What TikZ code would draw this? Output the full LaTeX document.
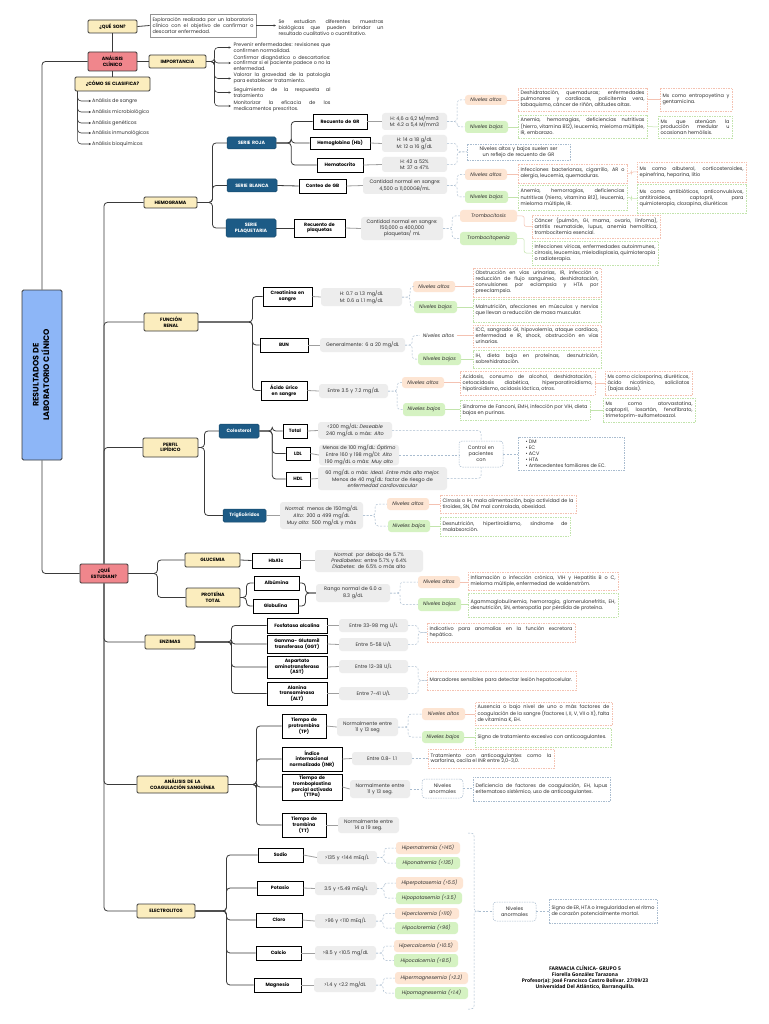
\documentclass[tikz,border=0pt]{standalone}
\usepackage{fontspec}
\setmainfont{Poppins}
\newfontfamily\footfont{Open Sans}
\usetikzlibrary{arrows.meta}
\hyphenpenalty=10000 \exhyphenpenalty=10000 \tolerance=9999 \emergencystretch=30pt
\hbadness=10000 \hfuzz=50pt \vbadness=10000 \vfuzz=50pt
\definecolor{cyel}{HTML}{FBEDBE}
\definecolor{cpink}{HTML}{F0868C}
\definecolor{clblue}{HTML}{8DB6F7}
\definecolor{cdblue}{HTML}{1D5B86}
\definecolor{cgray}{HTML}{EDEDED}
\definecolor{cpeach}{HTML}{FDE5D3}
\definecolor{cgreen}{HTML}{D5F2C2}
\definecolor{cpeachl}{HTML}{F4C2B2}
\definecolor{cgreenl}{HTML}{C2E4AC}
\definecolor{cbluel}{HTML}{A9BCCF}
\definecolor{cline}{HTML}{3A3A3A}
\definecolor{ctext}{HTML}{2E2E2E}
\newcommand\fs{\fontsize{4.95}{5.9}\selectfont}
\newcommand\fsb{\bfseries\fontsize{4.7}{5.7}\selectfont}
\newcommand\fsi{\itshape\fontsize{4.95}{5.9}\selectfont}
\newcommand\bx[7]{%
  \pgfmathsetmacro\bxw{#5-#3-5}%
  \pgfmathsetmacro\bxh{#6-#4}%
  \pgfmathsetmacro\bxx{(#3+#5)/2}%
  \pgfmathsetmacro\bxy{(#4+#6)/2}%
  \node[#2, text width=\bxw pt, minimum height=\bxh pt] (#1) at (\bxx,\bxy) {#7};}
\tikzset{
 sbase/.style={inner xsep=2.5pt, inner ysep=0.3pt, font=\fs, text=ctext},
 ybx/.style={sbase, fill=cyel, draw=cline, line width=0.9pt, rounded corners=1.2pt, align=center, font=\fsb, text=black},
 pbx/.style={ybx, fill=cpink},
 dbx/.style={sbase, fill=cdblue, draw=cdblue!80!black, line width=0.5pt, rounded corners=1.5pt, align=center, text=white, font=\fsb},
 wbx/.style={sbase, fill=white, draw=black, line width=0.8pt, align=center, font=\fsb, text=black},
 gbx/.style={sbase, fill=cgray, rounded corners=3pt, align=center},
 hibx/.style={sbase, fill=cpeach, rounded corners=3pt, align=center, font=\fsi},
 lobx/.style={sbase, fill=cgreen, rounded corners=3pt, align=center, font=\fsi},
 hipl/.style={sbase, align=center, font=\fsi},
 tpe/.style={sbase, draw=cpeachl, dash pattern=on 1.5pt off 1pt, line width=0.5pt, align=justify},
 tgr/.style={tpe, draw=cgreenl},
 tbl/.style={tpe, draw=cbluel},
 tblc/.style={tbl, align=center},
 tblr/.style={tbl, rounded corners=3pt, align=center},
 exbx/.style={sbase, fill=white, draw=gray!85, line width=0.6pt, align=justify},
 txt/.style={sbase, align=justify},
 clt/.style={sbase, anchor=west, inner xsep=1pt},
 cn/.style={draw=cline, line width=0.8pt, rounded corners=3.5pt},
 arr/.style={-{Stealth[length=2.2pt,width=2.2pt]}},
 vcn/.style={draw=gray!75, line width=0.8pt},
 dcn/.style={draw=cbluel, line width=0.5pt, dash pattern=on 2pt off 1.5pt, rounded corners=3pt},
 pcn/.style={draw=cpeachl, line width=0.5pt, rounded corners=2pt},
 gcn/.style={draw=cgreenl, line width=0.5pt, rounded corners=2pt},
}
\begin{document}
\begin{tikzpicture}[x=1pt,y=-1pt]
\fill[white] (0,0) rectangle (768,1024);
\useasboundingbox (0,0) rectangle (768,1024);

% ---------------- top part
\bx{qs}{ybx}{88}{20}{137}{33}{¿QUÉ SON?}
\bx{expl}{exbx}{150}{14}{256}{37}{Exploración realizada por un laboratorio clínico con el objetivo de confirmar o descartar enfermedad.}
\bx{seest}{txt}{276}{16}{386}{40}{Se estudian diferentes muestras biológicas que pueden brindar un resultado cualitativo o cuantitativo.}
\bx{ac}{pbx}{88}{52}{137}{71}{ANÁLISIS\\CLÍNICO}
\bx{imp}{ybx}{149}{55}{206}{68}{IMPORTANCIA}
\bx{imA}{txt}{231}{42}{333}{53}{Prevenir enfermedades: revisiones que confirmen normalidad.}
\bx{imB}{txt}{231}{56}{333}{70}{Confirmar diagnóstico o descartarlos: confirmar si el paciente padece o no la enfermedad.}
\bx{imC}{txt}{231}{73}{333}{84}{Valorar la gravedad de la patología para establecer tratamiento.}
\bx{imD}{txt}{231}{87}{333}{98}{Seguimiento de la respuesta al tratamiento}
\bx{imE}{txt}{231}{100}{333}{112}{Monitorizar la eficacia de los medicamentos prescritos.}
\bx{cls}{ybx}{75}{77}{150}{91}{¿CÓMO SE CLASIFICA?}
\node[clt] (clA) at (91,101) {Análisis de sangre};
\node[clt] (clB) at (91,112) {Análisis microbiológico};
\node[clt] (clC) at (91,123) {Análisis genéticos};
\node[clt] (clD) at (91,133) {Análisis inmunológicos};
\node[clt] (clE) at (91,144) {Análisis bioquímicos};

\node[fill=clblue, draw=cline, line width=0.9pt, rounded corners=1.5pt, minimum width=40pt, minimum height=170pt, inner sep=0pt, font=\bfseries\fontsize{8}{9.5}\selectfont] (res) at (42,375)
  {\rotatebox{90}{\begin{tabular}{@{}c@{}}RESULTADOS DE\\LABORATORIO CLÍNICO\end{tabular}}};
\bx{qe}{pbx}{80}{564}{128}{583}{¿QUÉ\\ESTUDIAN?}

% ---------------- hemograma
\bx{hem}{ybx}{144}{197}{197}{208}{HEMOGRAMA}
\bx{sr}{dbx}{227}{137}{276}{149}{SERIE ROJA}
\bx{sb}{dbx}{227}{179}{277}{192}{SERIE BLANCA}
\bx{sp}{dbx}{226}{219}{276}{237}{SERIE\\PLAQUETARIA}
\bx{gr}{wbx}{313}{114}{367}{129}{Recuento de GR}
\bx{hb}{wbx}{310}{137}{370}{149}{Hemoglobina (Hb)}
\bx{hct}{wbx}{317}{158}{363}{172}{Hematocrito}
\bx{gb}{wbx}{299}{179}{346}{193}{Conteo de GB}
\bx{plq}{wbx}{294}{219}{345}{237}{Recuento de\\plaquetas}
\bx{vgr}{gbx}{382}{113}{447}{130}{H: 4,6 a 6,2 M/mm3\\M: 4.2 a 5,4 M/mm3}
\bx{vhb}{gbx}{382}{135}{447}{152}{H: 14 a 18 g/dL\\M: 12 a 16 g/dL}
\bx{vhct}{gbx}{382}{157}{447}{172}{H: 42 a 52\%\\M: 37 a 47\%}
\bx{vgb}{gbx}{363}{177}{447}{194}{Cantidad normal  en sangre:\\4,500 a 11,000GB/mL.}
\bx{vplq}{gbx}{361}{217}{443}{240}{Cantidad normal en sangre:\\150,000 a 400,000\\plaquetas/ mL}
\bx{grA}{hibx}{465}{95}{507}{105}{Niveles altos}
\bx{grB}{lobx}{465}{121}{508}{133}{Niveles bajos}
\bx{grAt}{tpe}{518}{88}{647}{111}{Deshidratación, quemaduras; enfermedades pulmonares y cardiacas, policitemia vera, tabaquismo, cáncer de riñón, altitudes altas.}
\bx{grAm}{tpe}{660}{88}{732}{111}{Mx como entropoyetina y gentamicina.}
\bx{grBt}{tgr}{518}{115}{647}{138}{Anemia, hemorragias, deficiencias nutritivas (hierro, vitamina B12), leucemia, mieloma múltiple, IR, embarazo.}
\bx{grBm}{tgr}{658}{116}{732}{138}{Mx que atenúan la producción medular u ocasionan hemólisis.}
\bx{hbn}{tblc}{467}{144}{570}{160}{Niveles altos y bajos suelen ser un reflejo de recuento de GR}
\bx{gbA}{hibx}{465}{169}{507}{180}{Niveles altos}
\bx{gbB}{lobx}{465}{191}{508}{203}{Niveles bajos}
\bx{gbAt}{tpe}{518}{164}{627}{183}{Infecciones bacterianas, cigarrillo, AR o alergia, leucemia, quemaduras.}
\bx{gbAm}{tpe}{637}{162}{746}{182}{Mx como albuterol, corticosteroides, epinefrina, heparina, litio}
\bx{gbBt}{tgr}{518}{185}{627}{210}{Anemia, hemorragias, deficiencias nutritivas (hierro, vitamina B12), leucemia, mieloma múltiple, IR.}
\bx{gbBm}{tgr}{637}{184}{746}{213}{Mx como antibióticos, anticonvulsivos, antitiroideos, captopril, para quimioterapia, clozapina, diuréticos}
\bx{pA}{hibx}{460}{210}{517}{222}{Trombocitosis}
\bx{pB}{lobx}{460}{232}{517}{245}{Trombocitopenia}
\bx{pAt}{tpe}{532}{215}{660}{238}{Cáncer (pulmón, GI, mama, ovario, linfoma), artritis reumatoide, lupus, anemia hemolítica, trombocitemia esencial.}
\bx{pBt}{tgr}{532}{241}{658}{265}{Infecciones víricas, enfermedades autoinmunes, cirrosis, leucemias, mielodisplasia, quimioterapia o radioterapia.}

% ---------------- funcion renal
\bx{fr}{ybx}{144}{313}{198}{331}{FUNCIÓN\\RENAL}
\bx{cr}{wbx}{263}{287}{312}{306}{Creatinina en\\sangre}
\bx{bun}{wbx}{260}{338}{308}{352}{BUN}
\bx{au}{wbx}{261}{381}{307}{400}{Ácido úrico\\en sangre}
\bx{vcr}{gbx}{321}{288}{402}{306}{H: 0.7 a 1.3 mg/dL\\M: 0.6 a 1.1 mg/dL}
\bx{vbun}{gbx}{320}{338}{405}{352}{Generalmente: 6 a 20 mg/dL}
\bx{vau}{gbx}{319}{384}{388}{398}{Entre 3.5 y 7.2 mg/dL}
\bx{crA}{hibx}{413}{281}{455}{292}{Niveles altos}
\bx{crB}{lobx}{414}{301}{457}{313}{Niveles bajos}
\bx{bunA}{hipl}{420}{331}{457}{340}{Niveles altos}
\bx{bunB}{lobx}{418}{353}{461}{365}{Niveles bajos}
\bx{auA}{hibx}{402}{377}{444}{388}{Niveles altos}
\bx{auB}{lobx}{403}{403}{445}{416}{Niveles bajos}
\bx{crAt}{tpe}{473}{268}{601}{297}{Obstrucción en vías urinarias, IR, infección o reducción de flujo sanguíneo, deshidratación, convulsiones por eclampsia y HTA por preeclampsia.}
\bx{crBt}{tgr}{473}{299}{601}{322}{Malnutrición, afecciones en músculos y nervios que llevan a reducción de masa muscular.}
\bx{bunAt}{tpe}{473}{325}{601}{347}{ICC, sangrado GI, hipovolemia, ataque cardiaco, enfermedad e IR, shock, obstrucción en vías urinarias.}
\bx{bunBt}{tgr}{473}{350}{601}{368}{IH, dieta baja en proteínas, desnutrición, sobrehidratación.}
\bx{auAt}{tpe}{460}{371}{595}{395}{Acidosis, consumo de alcohol, deshidratación, cetoacidosis diabética, hiperparatiroidismo, hipotiroidismo, acidosis láctica, otros.}
\bx{auAm}{tpe}{605}{371}{692}{395}{Mx como ciclosporina, diuréticos, ácido nicotínico, salicilatos (bajas dosis).}
\bx{auBt}{tgr}{460}{400}{590}{420}{Síndrome de Fanconi, EMH, infección por VIH, dieta bajas en purinas.}
\bx{auBm}{tgr}{603}{398}{695}{422}{Mx como atorvastatina, captopril, losartán, fenofibrato, trimetoprim-sulfametoxazol.}

% ---------------- perfil lipidico
\bx{pl}{ybx}{143}{438}{198}{457}{PERFIL\\LIPÍDICO}
\bx{col}{dbx}{219}{424}{259}{438}{Colesterol}
\bx{tri}{dbx}{223}{509}{266}{522}{Triglicéridos}
\bx{tot}{wbx}{283}{424}{307}{438}{Total}
\bx{ldl}{wbx}{286}{447}{310}{460}{LDL}
\bx{hdl}{wbx}{286}{472}{310}{486}{HDL}
\bx{vtot}{gbx}{318}{422}{392}{439}{<200 mg/dL: \textit{Deseable}\\240 mg/dL o más: \textit{Alto}}
\bx{vldl}{gbx}{319}{445}{399}{465}{Menos de 100 mg/dL: \textit{Óptimo}\\Entre 160 y 198 mg/Dl: \textit{Alto}\\190 mg/dL o más: \textit{Muy alto}}
\bx{vhdl}{gbx}{318}{467}{447}{490}{60 mg/dL o más: \textit{Ideal. Entre más alto mejor.}\\Menos de 40 mg/dL: factor de riesgo de\\\textit{enfermedad cardiovascular}}
\bx{ctrl}{tblr}{459}{441}{503}{467}{Control en\\pacientes\\con}
\bx{risk}{tbl}{518}{437}{624}{470}{\raggedright\hspace*{5pt}\textbullet\ DM\\\hspace*{5pt}\textbullet\ EC\\\hspace*{5pt}\textbullet\ ACV\\\hspace*{5pt}\textbullet\ HTA\\\hspace*{5pt}\textbullet\ Antecedentes familiares de EC.}
\bx{vtri}{gbx}{280}{502}{363}{529}{\textit{Normal}: menos de 150mg/dL\\\textit{Alto}: 200 a 499 mg/dL\\\textit{Muy alto}: 500 mg/dL y más}
\bx{triA}{hibx}{387}{498}{429}{510}{Niveles altos}
\bx{triB}{lobx}{388}{520}{430}{532}{Niveles bajos}
\bx{triAt}{tpe}{440}{495}{576}{513}{Cirrosis o IH, mala alimentación, baja actividad de la tiroides, SN, DM mal controlada, obesidad.}
\bx{triBt}{tgr}{440}{517}{570}{536}{Desnutrición, hipertiroidismo, síndrome de malabsorción.}

% ---------------- glucemia / proteina
\bx{glu}{ybx}{185}{553}{240}{567}{GLUCEMIA}
\bx{pt}{ybx}{186}{588}{240}{607}{PROTEÍNA\\TOTAL}
\bx{hba}{wbx}{252}{553}{300}{568}{HbA1c}
\bx{vhba}{gbx}{315}{550}{423}{572}{\textit{Normal}: por debajo de 5.7\%\\\textit{Prediabetes}: entre 5.7\% y 6.4\%\\\textit{Diabetes}: de 6.5\% o más alto}
\bx{alb}{wbx}{254}{576}{299}{590}{Albúmina}
\bx{glob}{wbx}{253}{599}{298}{613}{Globulina}
\bx{vpt}{gbx}{316}{584}{390}{602}{Rango normal de 6.0 a\\8.3 g/dL}
\bx{ptA}{hibx}{418}{576}{460}{588}{Niveles altos}
\bx{ptB}{lobx}{418}{598}{461}{611}{Niveles bajos}
\bx{ptAt}{tpe}{468}{572}{618}{590}{Inflamación o infección crónica, VIH y Hepatitis B o C, mieloma múltiple, enfermedad de waldenström.}
\bx{ptBt}{tgr}{468}{593}{618}{617}{Agammaglobulinemia, hemorragia, glomerulonefritis, EH, desnutrición, SN, enteropatía por pérdida de proteína.}

% ---------------- enzimas
\bx{enz}{ybx}{145}{635}{195}{649}{ENZIMAS}
\bx{fa}{wbx}{267}{618}{327}{633}{Fosfatasa alcalina}
\bx{ggt}{wbx}{267}{635}{327}{653}{Gamma- Glutamil\\transferasa (GGT)}
\bx{ast}{wbx}{267}{656}{327}{678}{Aspartato\\aminotransferasa\\(AST)}
\bx{alt}{wbx}{267}{682}{327}{705}{Alanina\\transaminasa\\(ALT)}
\bx{vfa}{gbx}{339}{619}{408}{632}{Entre 33-98 mg U/L}
\bx{vggt}{gbx}{339}{638}{408}{651}{Entre 5-58 U/L}
\bx{vast}{gbx}{339}{660}{408}{673}{Entre 12-38 U/L}
\bx{valt}{gbx}{339}{687}{408}{700}{Entre 7-41 U/L}
\bx{hepA}{tpe}{427}{623}{575}{642}{Indicativo para anomalías en la función excretora hepática.}
\bx{hepB}{tpe}{427}{671}{576}{690}{Marcadores sensibles para detectar lesión hepatocelular.}

% ---------------- coagulacion
\bx{coag}{ybx}{137}{776}{228}{793}{ANÁLISIS DE LA\\COAGULACIÓN SANGUÍNEA}
\bx{tp}{wbx}{282}{714}{326}{738}{Tiempo de\\protrombina\\(TP)}
\bx{inr}{wbx}{282}{747}{342}{771}{Índice\\internacional\\normalizado (INR)}
\bx{ttpa}{wbx}{282}{774}{342}{800}{Tiempo de\\tromboplastina\\parcial activada\\(TTPa)}
\bx{tt}{wbx}{282}{813}{326}{837}{Tiempo de\\trombina\\(TT)}
\bx{vtp}{gbx}{337}{718}{398}{736}{Normalmente entre\\11 y 13 seg}
\bx{vinr}{gbx}{352}{752}{412}{765}{Entre 0.8- 1.1}
\bx{vttpa}{gbx}{350}{780}{410}{798}{Normalmente entre\\11 y 13 seg.}
\bx{vtt}{gbx}{338}{817}{399}{833}{Normalmente entre\\14 a 19 seg.}
\bx{tpA}{hibx}{422}{708}{465}{720}{Niveles altos}
\bx{tpB}{lobx}{422}{731}{464}{743}{Niveles bajos}
\bx{tpAt}{tpe}{475}{702}{612}{725}{Ausencia o bajo nivel de uno o más factores de coagulación de la sangre (factores I, II, V, VII o X), falta de vitamina K, EH.}
\bx{tpBt}{tgr}{475}{728}{611}{747}{Signo de tratamiento excesivo con anticoagulantes.}
\bx{inrt}{tpe}{428}{749}{554}{768}{Tratamiento con anticoagulantes como la warfarina, oscila el INR entre 2,0-3,0.}
\bx{ttpaN}{tblr}{422}{779}{463}{798}{Niveles\\anormales}
\bx{ttpat}{tbl}{473}{777}{610}{801}{Deficiencia de factores de coagulación, EH, lupus eritematoso sistémico, uso de anticoagulantes.}

% ---------------- electrolitos
\bx{elec}{ybx}{137}{904}{195}{918}{ELECTROLITOS}
\bx{na}{wbx}{258}{848}{303}{862}{Sodio}
\bx{k}{wbx}{257}{881}{303}{895}{Potasio}
\bx{cl}{wbx}{256}{913}{302}{927}{Cloro}
\bx{ca}{wbx}{256}{946}{301}{960}{Calcio}
\bx{mg}{wbx}{254}{978}{301}{992}{Magnesio}
\bx{vna}{gbx}{317}{851}{377}{864}{>135 y <144 mEq/L}
\bx{vk}{gbx}{315}{882}{377}{895}{3.5 y <5.49 mEq/L}
\bx{vcl}{gbx}{315}{914}{376}{928}{>96 y <110 mEq/L}
\bx{vca}{gbx}{315}{946}{376}{960}{>8.5 y <10.5 mg/dL}
\bx{vmg}{gbx}{314}{978}{376}{992}{>1.4 y <2.2 mg/dL}
\bx{naA}{hibx}{396}{842}{460}{854}{Hipernatremia (>145)}
\bx{naB}{lobx}{396}{857}{460}{869}{Hiponatremia (<135)}
\bx{kA}{hibx}{396}{877}{463}{889}{Hiperpotasemia (>5.5)}
\bx{kB}{lobx}{396}{892}{462}{904}{Hipopotasemia (<3.5)}
\bx{clA2}{hibx}{395}{908}{459}{919}{Hipercloremia (>110)}
\bx{clB2}{lobx}{395}{922}{458}{934}{Hipocloremia (<96)}
\bx{caA}{hibx}{394}{940}{458}{952}{Hipercalcemia (>10.5)}
\bx{caB}{lobx}{394}{954}{458}{967}{Hipocalcemia (<8.5)}
\bx{mgA}{hibx}{395}{972}{468}{984}{Hipermagnesemia (>2.2)}
\bx{mgB}{lobx}{395}{987}{468}{999}{Hipomagnesemia (<1.4)}
\coordinate (brT) at (468,833);
\coordinate (brB) at (468,1009);
\coordinate (brM) at (479,911);
\bx{elN}{tblr}{493}{902}{536}{921}{Niveles\\anormales}
\bx{elt}{tbl}{549}{899}{657}{923}{\raggedright Signo de ER, HTA o irregularidad en el ritmo de corazón potencialmente mortal.}

\node[font=\footfont\bfseries\fontsize{5}{6.1}\selectfont, align=center, text=black, inner sep=0pt] (foot) at (585,978) {FARMACIA CLÍNICA- GRUPO 5\\Fiorella González Tarazona\\Profesor(a): José Francisco Castro Bolívar. 27/09/23\\Universidad Del Atlántico, Barranquilla.};

% ================= connectors
\draw[cn] (qs.east) -- (expl.west);
\draw[cn] (qs.south) -- (ac.north);
\draw[cn, arr] (expl.east) -- (expl.east -| seest.west);
\draw[cn] (ac.east) -- (imp.west);
\foreach \t in {imA,imB,imC,imD,imE}{\draw[cn, arr, line width=0.6pt] (imp.east) -- ++(8,0) |- (\t.west);}
\draw[cn] (ac.south) -- (cls.north);
\foreach \t in {clA,clB,clC,clD,clE}{\draw[cn, arr, line width=0.6pt] ([xshift=3pt]cls.south west) |- (\t.west);}
\draw[cn] (ac.west) -| (res.north);
\draw[cn] (res.south) |- (qe.west);
\foreach \t in {hem,fr,pl}{\draw[cn] (qe.north) |- (\t.west);}
\foreach \t in {enz,coag,elec}{\draw[cn] (qe.south) |- (\t.west);}
\foreach \t in {glu,pt}{\draw[cn] (qe.east) -- ++(29,0) |- (\t.west);}

% hemograma
\foreach \t in {sr,sb,sp}{\draw[cn] (hem.east) -- ++(15,0) |- (\t.west);}
\foreach \t in {gr,hb,hct}{\draw[cn] (sr.east) -- ++(15,0) |- (\t.west);}
\draw[cn] (sb.east) -- (gb.west);
\draw[cn] (sp.east) -- (plq.west);
\draw[vcn] (gr.east) -- (vgr.west);
\draw[vcn] (hb.east) -- (vhb.west);
\draw[vcn] (hct.east) -- (vhct.west);
\draw[vcn] (gb.east) -- (vgb.west);
\draw[vcn] (plq.east) -- (vplq.west);
\foreach \t in {grA,grB}{\draw[dcn] (vgr.east) -- ++(10,0) |- (\t.west);}
\draw[dcn] (vhb.east) -- ++(10,0) |- (hbn.west);
\draw[dcn] (vhct.east) -- ++(10,0) |- (hbn.west);
\foreach \t in {gbA,gbB}{\draw[dcn] (vgb.east) -- ++(10,0) |- (\t.west);}
\foreach \t in {pA,pB}{\draw[dcn] (vplq.east) -- ++(9,0) |- (\t.west);}
\draw[pcn] (grA.east) -- (grA.east -| grAt.west);
\draw[pcn] (grAt.east) -- (grAm.west);
\draw[gcn] (grB.east) -- (grB.east -| grBt.west);
\draw[gcn] (grBt.east) -- (grBm.west);
\draw[pcn] (gbA.east) -- (gbA.east -| gbAt.west);
\draw[pcn] (gbAt.east) -- ++(4,0) |- (gbAm.west);
\draw[gcn] (gbB.east) -- (gbB.east -| gbBt.west);
\draw[gcn] (gbBt.east) -- ++(4,0) |- (gbBm.west);
\draw[pcn] (pA.east) -- ++(7,0) |- (pAt.west);
\draw[gcn] (pB.east) -- ++(7,0) |- (pBt.west);

% renal
\foreach \t in {cr,bun,au}{\draw[cn] (fr.east) -- ++(54,0) |- (\t.west);}
\draw[vcn] (cr.east) -- (vcr.west);
\draw[vcn] (bun.east) -- (vbun.west);
\draw[vcn] (au.east) -- (vau.west);
\foreach \t in {crA,crB}{\draw[dcn] (vcr.east) -- ++(8,0) |- (\t.west);}
\foreach \t in {bunA,bunB}{\draw[dcn] (vbun.east) -- ++(7,0) |- (\t.west);}
\foreach \t in {auA,auB}{\draw[dcn] (vau.east) -- ++(9,0) |- (\t.west);}
\draw[pcn] (crA.east) -- (crA.east -| crAt.west);
\draw[gcn] (crB.east) -- (crB.east -| crBt.west);
\draw[pcn] (bunA.east) -- (bunA.east -| bunAt.west);
\draw[gcn] (bunB.east) -- (bunB.east -| bunBt.west);
\draw[pcn] (auA.east) -- (auA.east -| auAt.west);
\draw[pcn] (auAt.east) -- (auAm.west);
\draw[gcn] (auB.east) -- (auB.east -| auBt.west);
\draw[gcn] (auBt.east) -- (auBm.west);

% lipidos
\foreach \t in {col,tri}{\draw[cn] (pl.east) -- ++(6,0) |- (\t.west);}
\foreach \t in {tot,ldl,hdl}{\draw[cn] (col.east) -- ++(13,0) |- (\t.west);}
\draw[vcn] (tot.east) -- (vtot.west);
\draw[vcn] (ldl.east) -- (vldl.west);
\draw[vcn] (hdl.east) -- (vhdl.west);
\draw[vcn] (tri.east) -- (vtri.west);
\draw[dcn] (vtot.east) -| (ctrl.north);
\draw[dcn] (vldl.east) -- (vldl.east -| ctrl.west);
\draw[dcn] (vhdl.east) -| (ctrl.south);
\draw[dcn] (ctrl.east) -- (ctrl.east -| risk.west);
\foreach \t in {triA,triB}{\draw[dcn] (vtri.east) -- ++(12,0) |- (\t.west);}
\draw[pcn] (triA.east) -- (triA.east -| triAt.west);
\draw[gcn] (triB.east) -- (triB.east -| triBt.west);

% glucemia / proteina
\draw[cn] (glu.east) -- (hba.west);
\draw[vcn] (hba.east) -- (hba.east -| vhba.west);
\foreach \t in {alb,glob}{\draw[cn] (pt.east) -- ++(6,0) |- (\t.west);}
\draw[cn] (alb.east) -- ++(6,0) |- (vpt.west);
\draw[cn] (glob.east) -- ++(7,0) |- (vpt.west);
\foreach \t in {ptA,ptB}{\draw[dcn] (vpt.east) -- ++(10,0) |- (\t.west);}
\draw[pcn] (ptA.east) -- (ptA.east -| ptAt.west);
\draw[gcn] (ptB.east) -- (ptB.east -| ptBt.west);

% enzimas
\foreach \t in {fa,ggt,ast,alt}{\draw[cn] (enz.east) -- ++(36,0) |- (\t.west);}
\draw[vcn] (fa.east) -- (vfa.west);
\draw[vcn] (ggt.east) -- (vggt.west);
\draw[vcn] (ast.east) -- (vast.west);
\draw[vcn] (alt.east) -- (valt.west);
\foreach \t in {vfa,vggt}{\draw[dcn] (\t.east) -- ++(10,0) |- (hepA.west);}
\foreach \t in {vast,valt}{\draw[dcn] (\t.east) -- ++(10,0) |- (hepB.west);}

% coagulacion
\foreach \t in {tp,inr,ttpa,tt}{\draw[cn] (coag.east) -- ++(28,0) |- (\t.west);}
\draw[vcn] (tp.east) -- (vtp.west);
\draw[vcn] (inr.east) -- (vinr.west);
\draw[vcn] (ttpa.east) -- (vttpa.west);
\draw[vcn] (tt.east) -- (vtt.west);
\foreach \t in {tpA,tpB}{\draw[dcn] (vtp.east) -- ++(10,0) |- (\t.west);}
\draw[pcn] (tpA.east) -- (tpA.east -| tpAt.west);
\draw[gcn] (tpB.east) -- (tpB.east -| tpBt.west);
\draw[dcn] (vinr.east) -- (vinr.east -| inrt.west);
\draw[dcn] (vttpa.east) -- (vttpa.east -| ttpaN.west);
\draw[dcn] (ttpaN.east) -- (ttpaN.east -| ttpat.west);

% electrolitos
\foreach \t in {na,k,cl,ca,mg}{\draw[cn] (elec.east) -- ++(31,0) |- (\t.west);}
\draw[vcn] (na.east) -- (vna.west);
\draw[vcn] (k.east) -- (vk.west);
\draw[vcn] (cl.east) -- (vcl.west);
\draw[vcn] (ca.east) -- (vca.west);
\draw[vcn] (mg.east) -- (vmg.west);
\foreach \t in {naA,naB}{\draw[dcn] (vna.east) -- ++(7,0) |- (\t.west);}
\foreach \t in {kA,kB}{\draw[dcn] (vk.east) -- ++(7,0) |- (\t.west);}
\foreach \t in {clA2,clB2}{\draw[dcn] (vcl.east) -- ++(7,0) |- (\t.west);}
\foreach \t in {caA,caB}{\draw[dcn] (vca.east) -- ++(7,0) |- (\t.west);}
\foreach \t in {mgA,mgB}{\draw[dcn] (vmg.east) -- ++(7,0) |- (\t.west);}
\draw[dcn] (brT) -- ++(6,0) |- (brM);
\draw[dcn] (brB) -- ++(6,0) |- (brM);
\draw[dcn] (brM) -- (brM -| elN.west);
\draw[dcn] (elN.east) -- (elN.east -| elt.west);
\end{tikzpicture}
\end{document}
